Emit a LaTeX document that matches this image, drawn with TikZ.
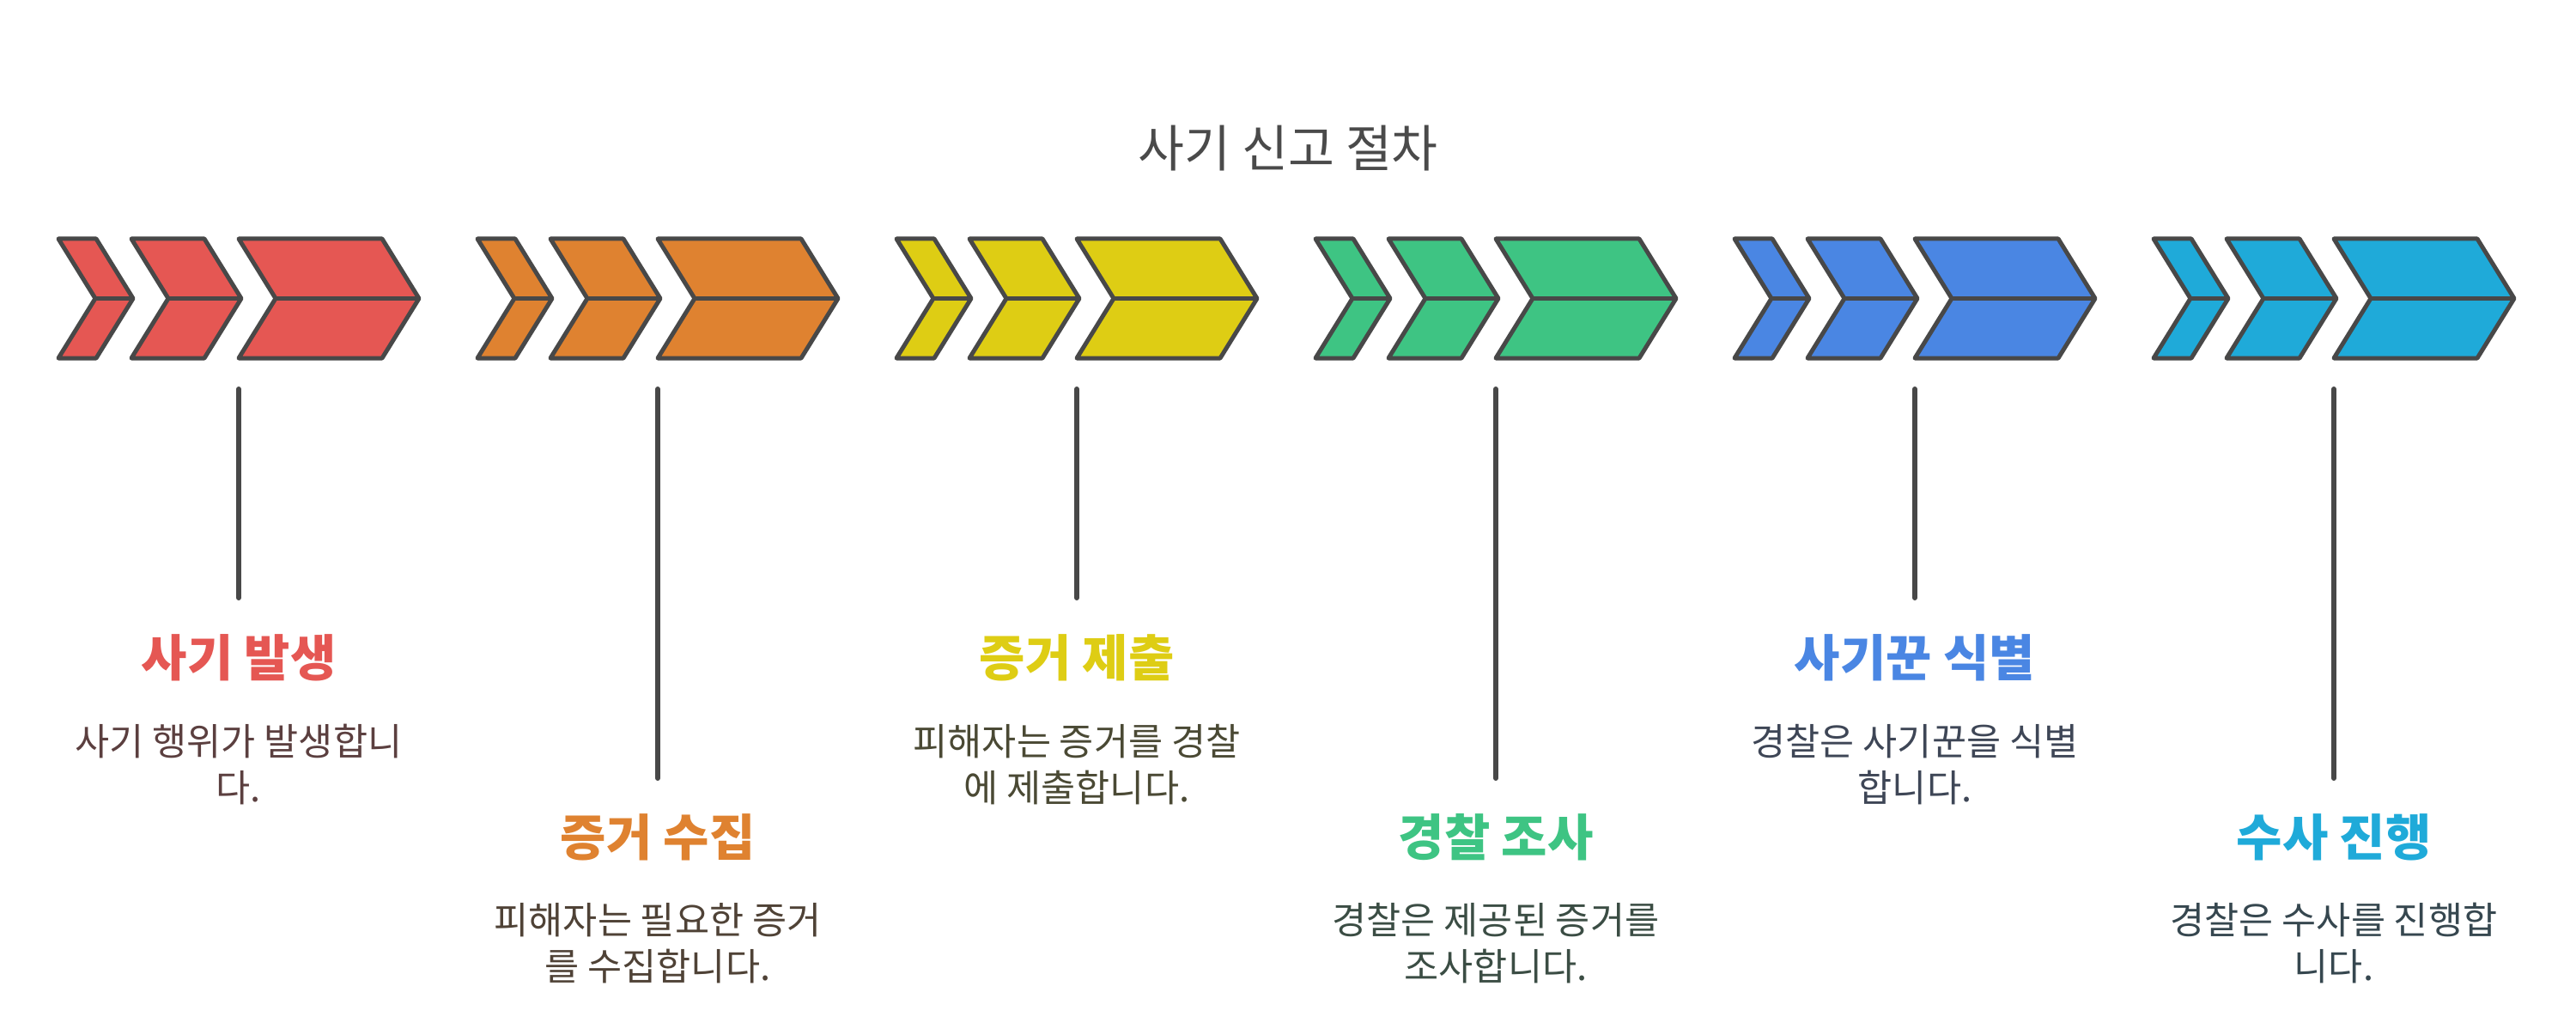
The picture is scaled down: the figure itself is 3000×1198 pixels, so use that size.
\documentclass[tikz,border=0pt]{standalone}
\usepackage{fontspec}
\setmainfont{Noto Sans CJK KR}
\definecolor{edge}{HTML}{484848}
\definecolor{titlec}{HTML}{4A4A4A}
\definecolor{cR}{HTML}{E55753}
\definecolor{cO}{HTML}{DF8230}
\definecolor{cY}{HTML}{DECD14}
\definecolor{cG}{HTML}{3EC483}
\definecolor{cB}{HTML}{4A86E3}
\definecolor{cC}{HTML}{1FAAD9}
\definecolor{dR}{HTML}{5B3F3F}
\definecolor{dO}{HTML}{4F4236}
\definecolor{dY}{HTML}{4A4934}
\definecolor{dG}{HTML}{3B4D44}
\definecolor{dB}{HTML}{3E4656}
\definecolor{dC}{HTML}{36474F}
\newcommand\mychev[3]{%
  \path[chev, fill=#3] (#1,278) -- ({#1+#2},278) -- ({#1+#2+43},347.5) -- ({#1+#2},417) -- (#1,417) -- ({#1+43},347.5) -- cycle;
  \draw[chev] ({#1+43},347.5) -- ({#1+#2+43},347.5);
}
\tikzset{
  chev/.style={draw=edge, line width=2.5pt, line join=round},
  vline/.style={draw=edge, line width=3pt, line cap=round},
  headtxt/.style={font=\fontsize{29}{33}\selectfont\bfseries, inner sep=0pt},
  desctxt/.style={font=\fontsize{21.8}{27}\selectfont, align=center, inner sep=0pt},
  titletxt/.style={font=\fontsize{29.3}{34}\selectfont, text=titlec, inner sep=0pt},
}
\begin{document}
\begin{tikzpicture}[x=0.5pt, y=-0.5pt]
\path[use as bounding box, fill=white] (0,0) rectangle (3000,1198);
\node[titletxt] (title) at (1500,173) {사기 신고 절차};
\foreach \i/\c in {0/cR,1/cO,2/cY,3/cG,4/cB,5/cC}{
  \pgfmathsetmacro\xo{68+488*\i}
  \mychev{\xo}{44}{\c}
  \mychev{\xo+85}{85}{\c}
  \mychev{\xo+210}{167}{\c}
}
% connectors
\coordinate (t0) at (278,453);  \coordinate (b0) at (278,696);
\coordinate (t1) at (766,453);  \coordinate (b1) at (766,906);
\coordinate (t2) at (1254,453); \coordinate (b2) at (1254,696);
\coordinate (t3) at (1742,453); \coordinate (b3) at (1742,906);
\coordinate (t4) at (2230,453); \coordinate (b4) at (2230,696);
\coordinate (t5) at (2718,453); \coordinate (b5) at (2718,906);
\foreach \i in {0,...,5}{\draw[vline] (t\i) -- (b\i);}
% labels
\node[headtxt, text=cR] (h0) at (278,766) {사기 발생};
\node[desctxt, text=dR] (d0) at (278,890) {사기 행위가 발생합니\\다.};
\node[headtxt, text=cO] (h1) at (766,975) {증거 수집};
\node[desctxt, text=dO] (d1) at (766,1098) {피해자는 필요한 증거\\를 수집합니다.};
\node[headtxt, text=cY] (h2) at (1254,766) {증거 제출};
\node[desctxt, text=dY] (d2) at (1254,890) {피해자는 증거를 경찰\\에 제출합니다.};
\node[headtxt, text=cG] (h3) at (1742,975) {경찰 조사};
\node[desctxt, text=dG] (d3) at (1742,1098) {경찰은 제공된 증거를\\조사합니다.};
\node[headtxt, text=cB] (h4) at (2230,766) {사기꾼 식별};
\node[desctxt, text=dB] (d4) at (2230,890) {경찰은 사기꾼을 식별\\합니다.};
\node[headtxt, text=cC] (h5) at (2718,975) {수사 진행};
\node[desctxt, text=dC] (d5) at (2718,1098) {경찰은 수사를 진행합\\니다.};
\end{tikzpicture}
\end{document}
